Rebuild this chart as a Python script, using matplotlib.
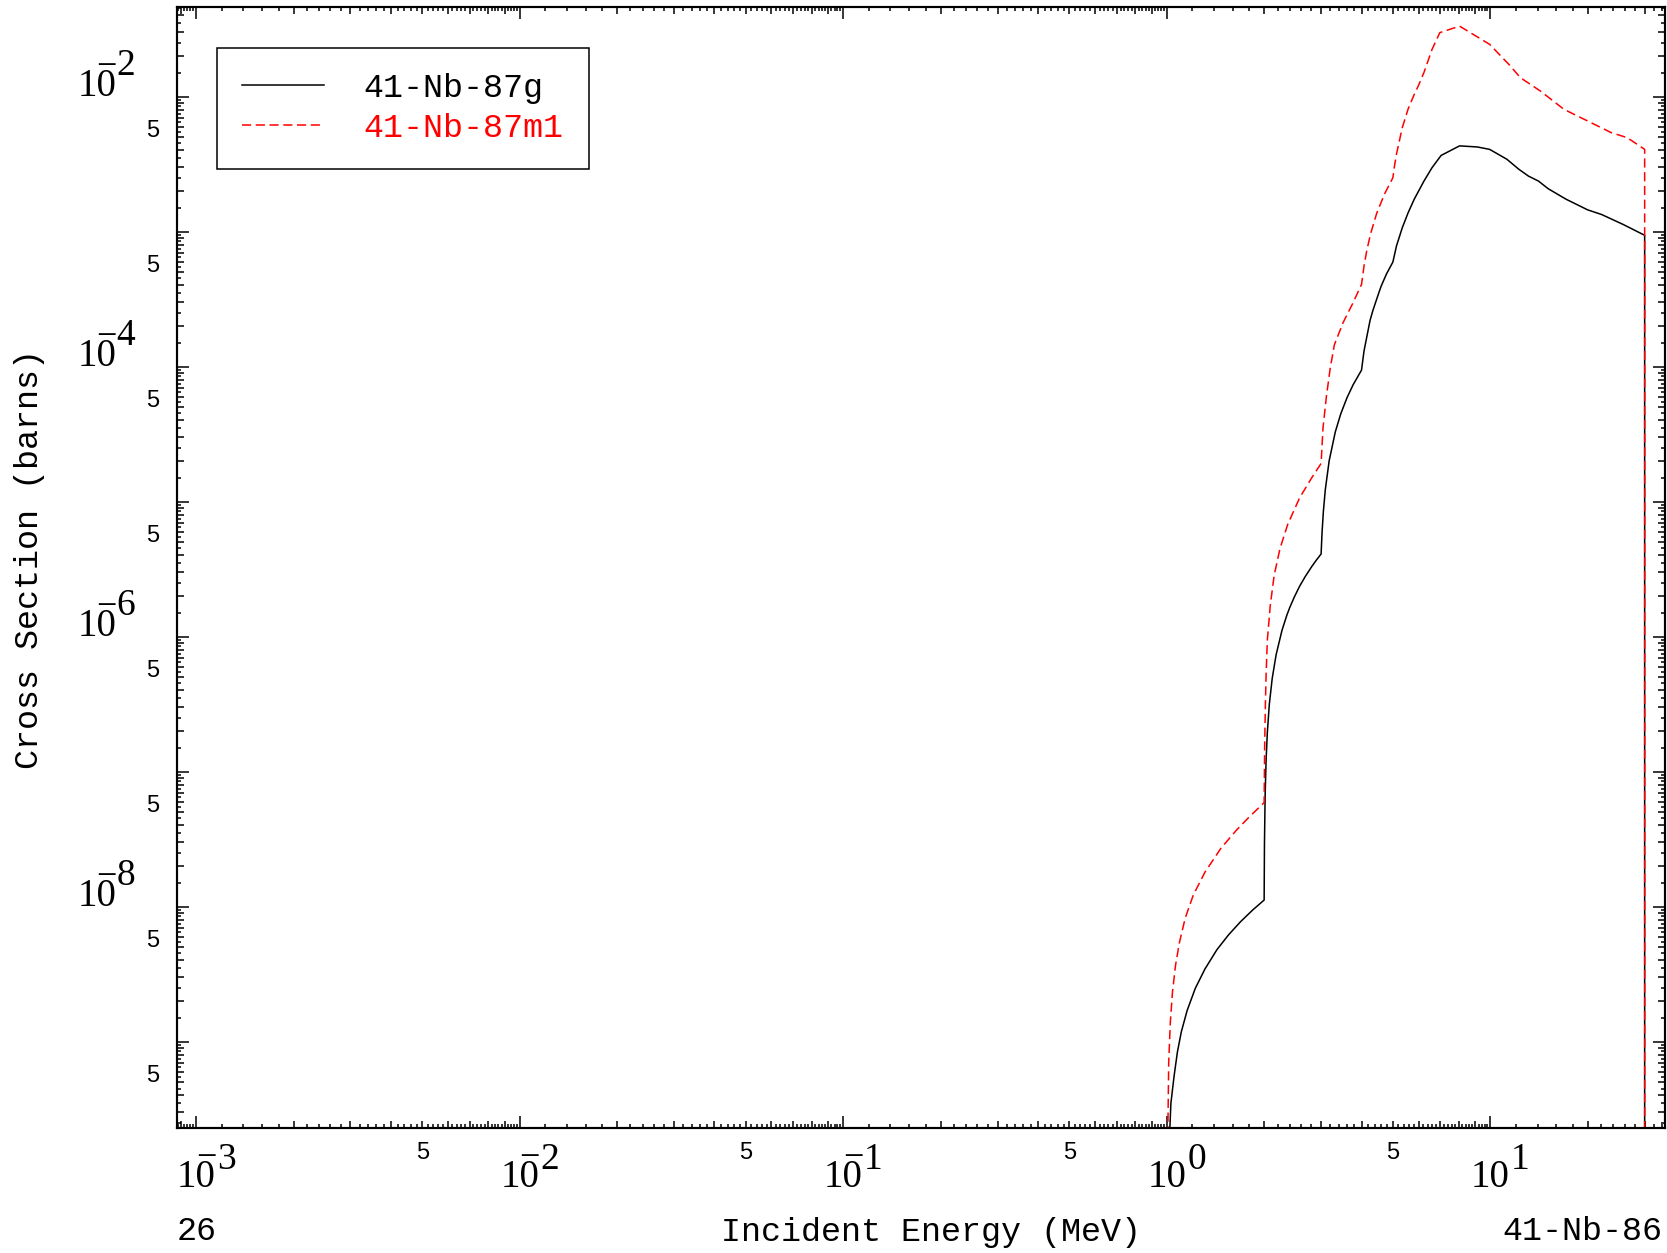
import matplotlib
matplotlib.use("Agg")
import matplotlib.pyplot as plt
from matplotlib.ticker import FixedLocator, NullLocator, NullFormatter
from matplotlib.transforms import blended_transform_factory, offset_copy

# values (energy in MeV, cross section in barns)
e_g = [1.008, 1.03, 1.054, 1.079, 1.109, 1.156, 1.225, 1.312, 1.429, 1.552, 1.69, 1.841, 2.0,
       2.0045, 2.014, 2.028, 2.046, 2.075, 2.118, 2.178, 2.27, 2.35, 2.399, 2.48, 2.576, 2.68, 2.805, 2.9, 3.0,
       3.02, 3.048, 3.09, 3.177, 3.319, 3.45, 3.606, 3.767, 4.0,
       4.07, 4.15, 4.25, 4.335, 4.519, 4.6, 4.775, 5.0,
       5.129, 5.346, 5.572, 5.821, 6.237, 6.607, 7.047, 8.035, 9.12, 9.954, 11.25, 12.25,
       13.12, 14.09, 15.1, 17.14, 20.0, 22.08, 25.76, 30.0, 30.0]
xs_g = [1.0e-10, 3.5e-10, 5.6e-10, 8.4e-10, 1.18e-9, 1.7e-9, 2.48e-9, 3.45e-9, 4.8e-9, 6.18e-9, 7.73e-9, 9.42e-9, 1.12e-8,
        2.9e-8, 6.6e-8, 1.22e-7, 1.95e-7, 3.15e-7, 4.9e-7, 7.35e-7, 1.11e-6, 1.44e-6, 1.64e-6, 1.97e-6, 2.37e-6,
        2.79e-6, 3.3e-6, 3.69e-6, 4.1e-6,
        5.9e-6, 8.4e-6, 1.22e-5, 2.01e-5, 3.29e-5, 4.47e-5, 5.88e-5, 7.34e-5, 9.44e-5,
        1.3e-4, 1.65e-4, 2.2e-4, 2.6e-4, 3.5e-4, 3.95e-4, 4.85e-4, 5.96e-4,
        7.83e-4, 1.07e-3, 1.38e-3, 1.74e-3, 2.37e-3, 2.98e-3, 3.67e-3, 4.32e-3, 4.24e-3, 4.07e-3, 3.44e-3, 2.9e-3,
        2.58e-3, 2.37e-3, 2.08e-3, 1.74e-3, 1.45e-3, 1.34e-3, 1.13e-3, 9.4e-4, 1.0e-10]

e_m = [1.004, 1.014, 1.026, 1.042, 1.064, 1.094, 1.14, 1.208, 1.312, 1.469, 1.644, 1.787, 2.0,
       2.007, 2.018, 2.028, 2.046, 2.089, 2.148, 2.239, 2.366, 2.576, 2.805, 3.0,
       3.04, 3.112, 3.2, 3.296, 3.508, 3.767, 4.0,
       4.07, 4.15, 4.266, 4.457, 4.71, 5.0,
       5.05, 5.129, 5.346, 5.572, 5.821, 6.0, 6.237, 6.607, 6.982, 8.035, 9.954, 11.4, 12.4, 14.29,
       16.9, 20.0, 23.66, 26.5, 30.0, 30.0]
xs_m = [1.0e-10, 7.0e-10, 1.4e-9, 2.35e-9, 3.65e-9, 5.4e-9, 8.2e-9, 1.22e-8, 1.8e-8, 2.7e-8, 3.7e-8, 4.55e-8, 5.9e-8,
        1.5e-7, 3.2e-7, 5.2e-7, 9.4e-7, 1.7e-6, 2.85e-6, 4.5e-6, 6.8e-6, 1.07e-5, 1.5e-5, 1.92e-5,
        3.5e-5, 5.9e-5, 9.7e-5, 1.45e-4, 2.12e-4, 2.98e-4, 4.07e-4,
        5.54e-4, 7.2e-4, 9.65e-4, 1.37e-3, 1.9e-3, 2.51e-3,
        3.0e-3, 3.75e-3, 5.9e-3, 8.1e-3, 1.04e-2, 1.21e-2, 1.51e-2, 2.24e-2, 2.98e-2, 3.33e-2, 2.44e-2, 1.74e-2,
        1.38e-2, 1.1e-2, 8.05e-3, 6.6e-3, 5.41e-3, 4.97e-3, 4.07e-3, 1.0e-10]

labels = ["41-Nb-87g", "41-Nb-87m1"]
x_decades = [-3, -2, -1, 0, 1]
y_decades = [-2, -4, -6, -8]
x_fives = [-3, -2, -1, 0]
y_fives = [-3, -4, -5, -6, -7, -8, -9, -10]

mono = "Liberation Mono"
serif = "Liberation Serif"
sans = "Liberation Sans"

fig = plt.figure(figsize=(16.67, 12.53), dpi=100)
ax = fig.add_axes([0.106, 0.0998, 0.8928, 0.8946])

ax.plot(e_g, xs_g, color="black", lw=1.1, label=labels[0])
ax.plot(e_m, xs_m, color="red", lw=1.1, linestyle=(0, (6, 3)), label=labels[1])

ax.set_xscale("log")
ax.set_yscale("log")
ax.set_xlim(10 ** -3.06, 10 ** 1.54)
ax.set_ylim(10 ** -9.639, 10 ** -1.336)

# tick layout: decades long, integers medium, fine steps short
dec = [10.0 ** k for k in range(-12, 4)]
ax.xaxis.set_major_locator(FixedLocator([m * d for d in dec for m in range(2, 10)]))
ax.xaxis.set_minor_locator(FixedLocator([m / 5 * d for d in dec for m in range(6, 50) if m % 5]))
ax.yaxis.set_major_locator(FixedLocator([m * d for d in dec for m in range(2, 10)]))
ax.yaxis.set_minor_locator(FixedLocator([m / 2 * d for d in dec for m in range(3, 20, 2)]))
ax.xaxis.set_major_formatter(NullFormatter())
ax.yaxis.set_major_formatter(NullFormatter())
ax.tick_params(which="both", direction="in", top=True, right=True, width=1.1,
               labelbottom=False, labelleft=False)
ax.tick_params(which="major", length=5)
ax.tick_params(which="minor", length=2.6)
for sp in ax.spines.values():
    sp.set_linewidth(1.5)

for side in ("bottom", "top"):
    sec = ax.secondary_xaxis(side)
    sec.set_xticks(dec)
    sec.xaxis.set_minor_locator(NullLocator())
    sec.xaxis.set_major_formatter(NullFormatter())
    sec.tick_params(direction="in", length=8.5, width=1.1)
    sec.spines[side].set_linewidth(1.5)
for side in ("left", "right"):
    sec = ax.secondary_yaxis(side)
    sec.set_yticks(dec)
    sec.yaxis.set_minor_locator(NullLocator())
    sec.yaxis.set_major_formatter(NullFormatter())
    sec.tick_params(direction="in", length=8.5, width=1.1)
    sec.spines[side].set_linewidth(1.5)


def shifted(tr, dx, dy):
    return offset_copy(tr, fig=fig, x=dx, y=dy, units="dots")


xtr = blended_transform_factory(ax.transData, ax.transAxes)
ytr = blended_transform_factory(ax.transAxes, ax.transData)

# power-of-ten labels drawn in the reference's style: bar over the 0, big exponent
for k in x_decades:
    v = 10.0 ** k
    ax.text(v, 0, "10", transform=shifted(xtr, 0, -50), ha="center", va="center",
            fontsize=28, family=serif)
    if k < 0:
        ax.text(v, 0, "\u2212", transform=shifted(xtr, 10, -31), ha="center", va="center",
                fontsize=26, family=serif)
    ax.text(v, 0, str(abs(k)), transform=shifted(xtr, 30, -32), ha="center", va="center",
            fontsize=27, family=serif)
for k in x_fives:
    ax.text(5 * 10.0 ** k, 0, "5", transform=shifted(xtr, 0, -25), ha="center", va="center",
            fontsize=17, family=sans)

for k in y_decades:
    v = 10.0 ** k
    ax.text(0, v, "10", transform=shifted(ytr, -80, 10), ha="center", va="center",
            fontsize=28, family=serif)
    ax.text(0, v, "\u2212", transform=shifted(ytr, -70, 29), ha="center", va="center",
            fontsize=26, family=serif)
    ax.text(0, v, str(abs(k)), transform=shifted(ytr, -51, 31), ha="center", va="center",
            fontsize=27, family=serif)
for k in y_fives:
    ax.text(0, 5 * 10.0 ** k, "5", transform=shifted(ytr, -24, 6), ha="center", va="center",
            fontsize=17, family=sans)

leg = ax.legend(loc="upper left", bbox_to_anchor=(0.027, 0.9634), borderaxespad=0,
                frameon=True, fancybox=False, edgecolor="black", framealpha=1,
                prop={"family": mono, "size": 24}, handlelength=2.45, handletextpad=1.2,
                borderpad=0.75, labelspacing=0.27, labelcolor="linecolor")
leg.get_frame().set_linewidth(1.1)

fig.text(30 / 1667, 1 - 559 / 1253, "Cross Section (barns)", rotation=90, ha="center",
         va="center", fontsize=24, family=mono)
fig.text(931 / 1667, 1 - 1232 / 1253, "Incident Energy (MeV)", ha="center", va="center",
         fontsize=24, family=mono)
fig.text(177 / 1667, 1 - 1232 / 1253, "26", ha="left", va="center", fontsize=24, family=mono)
fig.text(1662 / 1667, 1 - 1232 / 1253, "41-Nb-86", ha="right", va="center", fontsize=24, family=mono)

fig.savefig("out.png", dpi=100)
